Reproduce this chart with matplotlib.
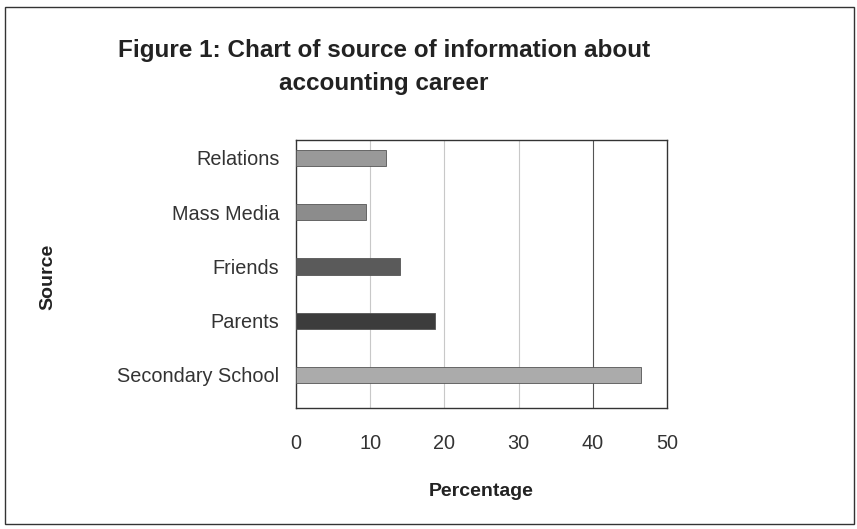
import matplotlib
matplotlib.use("Agg")
import matplotlib.pyplot as plt
from matplotlib.patches import Rectangle

# donnees (en %)
sources = ["Secondary School", "Parents", "Friends", "Mass Media", "Relations"]
percentages = [46.5, 18.7, 14.0, 9.4, 12.1]
bar_colors = ["#ababab", "#3c3c3c", "#5a5a5a", "#8c8c8c", "#999999"]
xticks = [0, 10, 20, 30, 40, 50]

plt.rcParams["font.family"] = ["Liberation Sans", "DejaVu Sans"]

fig = plt.figure(figsize=(8.57, 5.29), dpi=100)
fig.patch.set_facecolor("white")

# cadre exterieur
fig.patches.append(Rectangle((0.006, 0.01), 0.99, 0.977, transform=fig.transFigure,
                             fill=False, edgecolor="#333333", linewidth=1.0))

ax = fig.add_axes([0.3454, 0.2287, 0.4329, 0.5066])
ax.barh(range(len(sources)), percentages, height=0.3, color=bar_colors,
        edgecolor="#555555", linewidth=0.6, zorder=3)

ax.set_xlim(0, 50)
ax.set_ylim(-0.61, 4.33)
ax.set_xticks(xticks)
ax.set_xticklabels([str(t) for t in xticks])
ax.set_yticks(range(len(sources)))
ax.set_yticklabels(sources)
ax.tick_params(axis="both", length=0, labelsize=14.3, colors="#333333")
ax.tick_params(axis="x", pad=19)
ax.tick_params(axis="y", pad=12)

# lignes de grille
for t in xticks[1:-1]:
    ax.axvline(t, color="#555555" if t == 40 else "#c8c8c8",
               linewidth=0.8, zorder=1)

for s in ax.spines.values():
    s.set_color("#333333")
    s.set_linewidth(1.0)

ax.set_xlabel("Percentage", fontsize=14, fontweight="bold", color="#222222")
ax.xaxis.set_label_coords(0.5, -0.28)
ax.set_ylabel("Source", fontsize=14, fontweight="bold", color="#222222")
ax.yaxis.set_label_coords(-0.645, 0.49)

fig.text(0.448, 0.874, "Figure 1: Chart of source of information about\naccounting career",
         ha="center", va="center", fontsize=17.5, fontweight="bold",
         color="#222222", linespacing=1.55)

fig.savefig("out.png", dpi=100)
